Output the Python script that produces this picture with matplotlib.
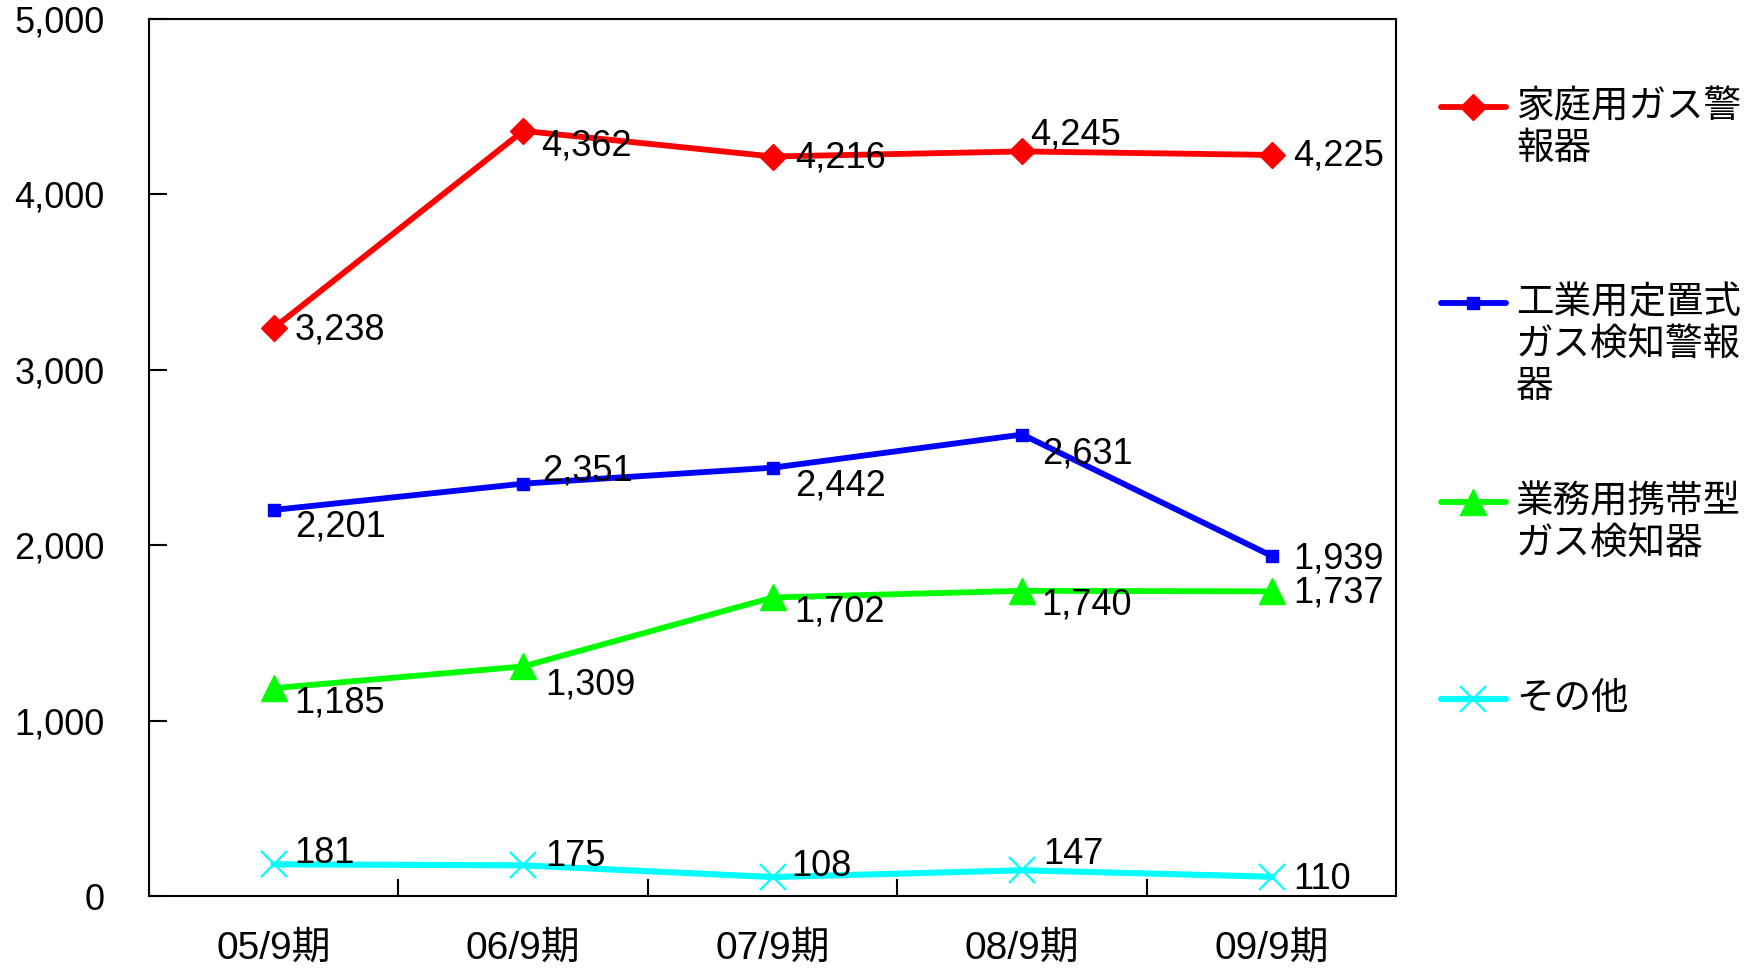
import matplotlib
matplotlib.use("Agg")
import matplotlib.pyplot as plt
from matplotlib.lines import Line2D
from matplotlib.ticker import FuncFormatter, FixedLocator

plt.rcParams['font.family'] = ['Liberation Sans', 'Noto Sans CJK JP']

# --- data -------------------------------------------------------------
periods = ["05/9期", "06/9期", "07/9期", "08/9期", "09/9期"]
series_names = ["家庭用ガス警\n報器", "工業用定置式\nガス検知警報\n器", "業務用携帯型\nガス検知器", "その他"]
household = [3238, 4362, 4216, 4245, 4225]
industrial_fixed = [2201, 2351, 2442, 2631, 1939]
portable = [1185, 1309, 1702, 1740, 1737]
others = [181, 175, 108, 147, 110]

# --- styles -----------------------------------------------------------
styles = [
    dict(color="#FF0000", marker="D", ms=13, lw=4.2),
    dict(color="#0000FF", marker="s", ms=8, lw=4.2),
    dict(color="#00FF00", marker="^", ms=19, lw=4.2),
    dict(color="#00FFFF", marker="x", ms=19, lw=4.4, mew=1.6),
]
# value-label offsets in pixels (dx, dy) per point
label_offsets = [
    [(21, -2), (18, -15), (22, -1), (8, 16), (21, -1)],
    [(21, -17), (19, 13), (22, -18), (20, -19), (22, -3)],
    [(21, -15), (22, -19), (22, -15), (19, -14), (22, -2)],
    [(21, 11), (22, 9), (19, 11), (21, 16), (22, -3)],
]

fig = plt.figure(figsize=(17.65, 9.69), dpi=100)
fig.subplots_adjust(left=0.0844, right=0.7912, top=0.9804, bottom=0.0753)
ax = fig.add_subplot(111)

x = list(range(len(periods)))
all_series = [household, industrial_fixed, portable, others]
for vals, st, offs in zip(all_series, styles, label_offsets):
    ax.plot(x, vals, color=st["color"], lw=st["lw"], marker=st["marker"],
            ms=st["ms"], mec=st["color"], mfc=st["color"],
            mew=st.get("mew", 1.0), clip_on=False, zorder=3)
    for xi, v, (dx, dy) in zip(x, vals, offs):
        ax.annotate(f"{v:,}", (xi, v), xytext=(dx, dy), textcoords="offset pixels",
                    ha="left", va="center", fontsize=26, color="black", zorder=4)

ax.set_xlim(-0.5, len(periods) - 0.5)
ax.set_ylim(0, 5000)

# y axis
ax.yaxis.set_major_locator(FixedLocator([0, 1000, 2000, 3000, 4000, 5000]))
ax.yaxis.set_major_formatter(FuncFormatter(lambda v, p: f"{int(v):,}"))
ax.tick_params(axis="y", direction="in", length=13, width=1.5, pad=32, labelsize=26)

# x axis: ticks on category boundaries, labels at category centres
ax.xaxis.set_major_locator(FixedLocator([0.5, 1.5, 2.5, 3.5]))
ax.xaxis.set_major_formatter(FuncFormatter(lambda v, p: ""))
ax.xaxis.set_minor_locator(FixedLocator(x))
ax.set_xticklabels(periods, minor=True)
ax.tick_params(axis="x", which="major", direction="in", length=12, width=1.5)
ax.tick_params(axis="x", which="minor", length=0, pad=25, labelsize=28)

for s in ax.spines.values():
    s.set_linewidth(1.5)
    s.set_color("black")

# --- legend drawn at the right side -----------------------------------
W, H = 1765, 969
legend_y = [107, 303, 502, 699]
line_x0, line_x1, text_x = 1441, 1506, 1516
pitch = 42
for name, st, yy in zip(series_names, styles, legend_y):
    yf = 1 - yy / H
    fig.add_artist(Line2D([line_x0 / W, line_x1 / W], [yf, yf], transform=fig.transFigure,
                          color=st["color"], lw=st["lw"], solid_capstyle="round"))
    fig.add_artist(Line2D([(line_x0 + line_x1) / 2 / W], [yf], transform=fig.transFigure,
                          color=st["color"], marker=st["marker"], ms=st["ms"],
                          mew=st.get("mew", 1.0), lw=0))
    for k, part in enumerate(name.split("\n")):
        fig.text(text_x / W, 1 - (yy + k * pitch) / H, part, ha="left", va="center",
                 fontsize=27, color="black")

fig.savefig("out.png", dpi=100)
